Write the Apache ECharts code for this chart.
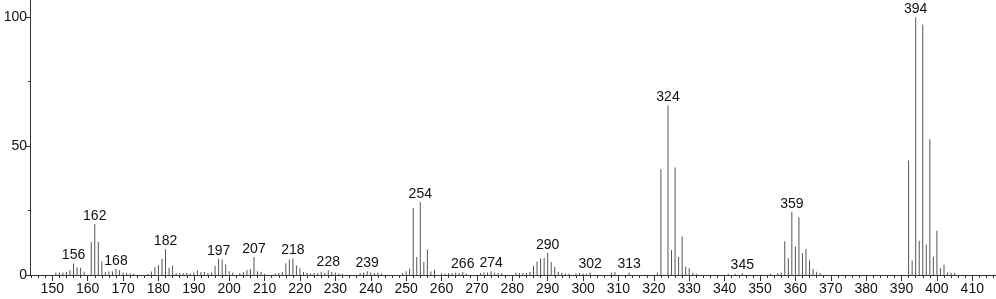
<!DOCTYPE html>
<html><head><meta charset="utf-8">
<script src="https://cdn.jsdelivr.net/npm/echarts@6/dist/echarts.min.js"></script>
<style>html,body{margin:0;padding:0;background:#fff}#c{width:996px;height:299px}</style>
</head><body><div id="c"></div>
<script>
const mz = [151,152,153,154,155,156,157,158,159,161,162,163,164,165,166,167,168,169,170,171,172,173,
177,178,179,180,181,182,183,184,185,186,187,188,189,190,191,192,193,194,195,196,197,198,199,200,201,
203,204,205,206,207,208,209,210,213,214,215,216,217,218,219,220,221,222,223,224,225,226,227,228,229,230,231,232,
237,238,239,240,241,242,243,249,250,251,252,253,254,255,256,257,258,260,261,262,263,264,265,266,267,
271,272,273,274,275,276,277,281,282,283,284,285,286,287,288,289,290,291,292,293,294,295,296,298,299,300,301,302,
308,309,313,321,322,324,325,326,327,328,329,330,331,332,341,343,345,353,355,356,357,358,359,360,361,362,363,364,365,366,367,
392,393,394,395,396,397,398,399,400,401,402,403,404,405];
const intensity = [1,1,1,1.2,1.8,4.5,3,2.8,1.3,12.8,19.8,12.8,5.3,1.2,1.4,1.4,2.4,1.8,1,0.9,0.7,0.5,
0.5,1.4,3,3.8,6.3,10,2.8,3.7,0.8,0.8,0.8,0.8,0.6,1,1.8,1.2,1.2,0.8,1,3.5,6.3,6,4.2,1.5,1,
0.8,1.2,1.8,2.3,7,1.5,1.2,0.5,0.6,0.8,1.2,4.6,6,6.4,3.7,2.6,1.2,0.8,0.6,0.8,0.8,1.3,0.8,1.8,1.2,1,0.6,0.5,
0.8,1,1.5,1,0.8,1,0.6,0.8,1.5,2.5,26,7,28.3,5,10,1.4,2,0.6,0.6,0.8,0.8,1,0.8,1.2,0.6,
0.8,1,1,1.5,1,0.8,0.8,1,0.8,0.8,0.8,1.2,3.5,5.2,6.5,6.7,8.5,5,3.2,1.3,0.9,0.6,0.5,0.6,0.8,0.6,0.5,1,
1,1.2,1,1,41,65.8,9.7,41.7,7,14.9,3.2,2.6,0.9,0.5,0.5,0.5,0.8,0.5,0.8,1,13.1,6.5,24.5,11.1,22.4,8.4,10.1,5.7,2.3,1.3,0.8,
44.4,5.6,100,13.3,97.2,11.8,52.7,7.1,17.2,2.6,4,1,0.9,0.9];
const labeledPeaks = [156,162,168,182,197,207,218,228,239,254,266,274,290,302,313,324,345,359,394];
const xTickLabels = [150,160,170,180,190,200,210,220,230,240,250,260,270,280,290,300,310,320,330,340,350,360,370,380,390,400,410];
const xMinorTicks = [144,146,148,152,154,156,158,162,164,166,168,172,174,176,178,182,184,186,188,192,194,196,198,202,204,206,208,212,214,216,218,222,224,226,228,232,234,236,238,242,244,246,248,252,254,256,258,262,264,266,268,272,274,276,278,282,284,286,288,292,294,296,298,302,304,306,308,312,314,316,318,322,324,326,328,332,334,336,338,342,344,346,348,352,354,356,358,362,364,366,368,372,374,376,378,382,384,386,388,392,394,396,398,402,404,406,408,412,414,416];
const yTickLabels = [0,50,100];
const yMinorTicks = [25,75];

const XMIN = 143.7, XMAX = 416.7, YMAX = 106.7;
const font = 'Liberation Sans, Arial, sans-serif';
const data = mz.map((m,i)=>{
  const d = {value:[m,intensity[i]]};
  if (labeledPeaks.includes(m)) d.label = {show:true, formatter: String(m)};
  return d;
});
const chart = echarts.init(document.getElementById('c'), null, {renderer:'canvas'});
chart.setOption({
  animation:false,
  grid:{left:30, right:0, top:0, bottom:24},
  xAxis:[{
    type:'value', min:XMIN, max:XMAX,
    axisLine:{show:true, onZero:false, lineStyle:{color:'#333', width:1}},
    axisTick:{show:true, customValues:xTickLabels, length:6, lineStyle:{color:'#333'}},
    axisLabel:{customValues:xTickLabels, color:'#111', fontSize:14, fontFamily:font, margin:7},
    splitLine:{show:false}
  },{
    type:'value', min:XMIN, max:XMAX, position:'bottom',
    axisLine:{show:false},
    axisTick:{show:true, customValues:xMinorTicks, length:3, lineStyle:{color:'#333'}},
    axisLabel:{show:false}, splitLine:{show:false}
  }],
  yAxis:[{
    type:'value', min:0, max:YMAX,
    axisLine:{show:true, lineStyle:{color:'#333'}},
    axisTick:{show:true, customValues:yTickLabels, length:4, lineStyle:{color:'#333'}},
    axisLabel:{customValues:yTickLabels, color:'#111', fontSize:14, fontFamily:font, margin:3},
    splitLine:{show:false}
  },{
    type:'value', min:0, max:YMAX, position:'left',
    axisLine:{show:false},
    axisTick:{show:true, customValues:yMinorTicks, length:2, lineStyle:{color:'#333'}},
    axisLabel:{show:false}, splitLine:{show:false}
  }],
  series:[{
    type:'bar', xAxisIndex:0, yAxisIndex:0, barWidth:1,
    itemStyle:{color:'#555'},
    label:{show:false, position:'top', distance:1, color:'#111', fontSize:14, fontFamily:font},
    data:data
  }]
});
</script></body></html>
